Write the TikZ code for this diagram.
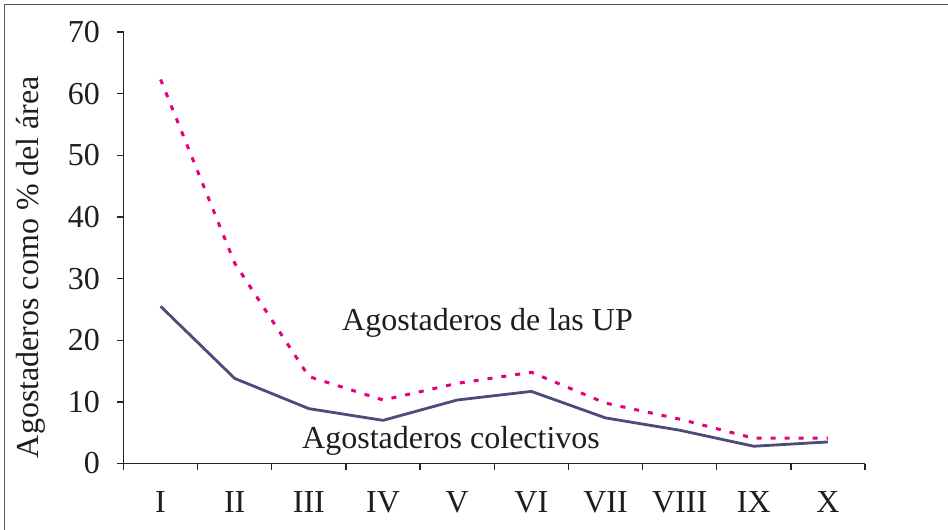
\documentclass[tikz,border=0pt]{standalone}
\usepackage{fontspec}
\setmainfont{Liberation Serif}
\newfontfamily\chartfont{Liberation Serif}
\definecolor{framegray}{RGB}{85,85,85}
\definecolor{colcol}{RGB}{78,74,122}
\definecolor{upcol}{RGB}{230,0,126}
\definecolor{textcol}{RGB}{30,30,30}
\begin{document}
\begin{tikzpicture}[x=1pt,y=-1pt,
  axis/.style={line width=1.3pt, draw=black!85},
  frameline/.style={line width=1.6pt, draw=framegray},
  lbl/.style={font=\chartfont\fontsize{32}{38}\selectfont, inner sep=0pt, text=textcol},
  colline/.style={line width=2.8pt, draw=colcol, line join=round},
  upline/.style={line width=3pt, draw=upcol, dash pattern=on 5pt off 9pt}]
\useasboundingbox (0,0) rectangle (948,530);
\begin{scope}
  \clip (0,0) rectangle (948,530);
  \draw[frameline] (4.5,4.5) rectangle (990,570);
\end{scope}
% axes
\coordinate (o) at (123.5,463.5);
\coordinate (ytop) at (123.5,32);
\coordinate (xend) at (865,463.5);
\draw[axis] (ytop) -- (o) -- (xend);
% y ticks and labels
\foreach \v in {0,...,7}{
  \pgfmathsetmacro{\yy}{463.5-61.64*\v}
  \coordinate (yt\v) at (117,\yy);
  \coordinate (ya\v) at (123.5,\yy);
  \draw[axis] (yt\v) -- (ya\v);
  \node[lbl, anchor=east] (ylab\v) at (100,\yy) {\the\numexpr\v*10\relax};
}
% x ticks
\foreach \i in {0,...,10}{
  \pgfmathsetmacro{\xx}{123.5+74.15*\i}
  \coordinate (xa\i) at (\xx,463.5);
  \coordinate (xt\i) at (\xx,470);
  \draw[axis] (xa\i) -- (xt\i);
}
% x labels
\foreach \lab [count=\k] in {I,II,III,IV,V,VI,VII,VIII,IX,X}{
  \pgfmathsetmacro{\xx}{123.5+74.15*(\k-0.5)}
  \node[lbl, anchor=base] (xlab\k) at (\xx,512) {\lab};
}
% y axis title
\node[lbl, rotate=90, anchor=base] (ytitle) at (38,267) {Agostaderos como \% del área};
% data
\begin{scope}[shift={(123.5pt,-463.5pt)}, x={(74.15pt,0pt)}, y={(0pt,6.164pt)}]
  \foreach \v [count=\k] in {25.5,13.8,8.9,7.0,10.3,11.7,7.4,5.4,2.8,3.5}{
    \coordinate (c\k) at (\k-0.5,\v);
  }
  \foreach \v [count=\k] in {62.3,32.5,14.1,10.3,13.0,14.8,9.8,7.2,4.1,4.1}{
    \coordinate (u\k) at (\k-0.5,\v);
  }
\end{scope}
\draw[colline] (c1) -- (c2) -- (c3) -- (c4) -- (c5) -- (c6) -- (c7) -- (c8) -- (c9) -- (c10);
\draw[upline] (u1) -- (u2) -- (u3) -- (u4) -- (u5) -- (u6) -- (u7) -- (u8) -- (u9) -- (u10);
% series labels
\node[lbl, anchor=base west] (uplab) at (342,330) {Agostaderos de las UP};
\node[lbl, anchor=base west] (collab) at (302,448) {Agostaderos colectivos};
\end{tikzpicture}
\end{document}
